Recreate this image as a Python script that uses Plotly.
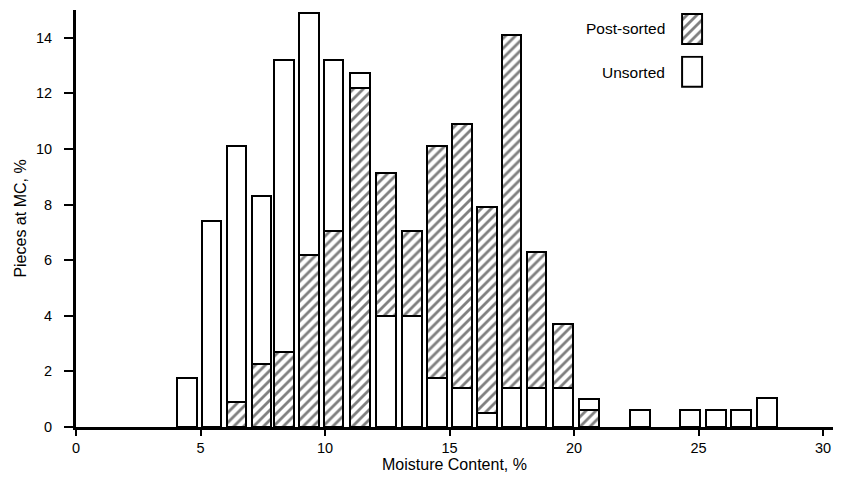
import plotly.graph_objects as go

# Moisture content bin centres (%)
mc = [4.45, 5.45, 6.45, 7.45, 8.35, 9.35, 10.35, 11.4, 12.45, 13.5, 14.5,
      15.5, 16.5, 17.5, 18.5, 19.55, 20.6, 22.65, 24.65, 25.7, 26.7, 27.75]
# Pieces at MC (%)
unsorted = [1.75, 7.4, 10.1, 8.3, 13.2, 14.9, 13.2, 12.75, 4.0, 4.0, 1.75,
            1.4, 0.5, 1.4, 1.4, 1.4, 1.0, 0.6, 0.6, 0.6, 0.6, 1.05]
post_sorted = [0, 0, 0.9, 2.25, 2.7, 6.2, 7.05, 12.2, 9.15, 7.05, 10.1,
               10.9, 7.9, 14.1, 6.3, 3.7, 0.6, 0, 0, 0, 0, 0]

x_ticks = [0, 5, 10, 15, 20, 25, 30]
y_ticks = [0, 2, 4, 6, 8, 10, 12, 14]

FONT = "Liberation Sans, Arial, Helvetica, sans-serif"
HATCH = "/"

# larger value drawn behind, smaller value drawn in front
back_y, back_pat, front_y, front_pat = [], [], [], []
for u, p in zip(unsorted, post_sorted):
    if p > u:
        back_y.append(p); back_pat.append(HATCH)
        front_y.append(u if u > 0 else None); front_pat.append("")
    else:
        back_y.append(u if u > 0 else None); back_pat.append("")
        front_y.append(p if p > 0 else None); front_pat.append(HATCH)

def bar_marker(pats):
    return dict(color="white",
                line=dict(color="black", width=2),
                pattern=dict(shape=pats, fgcolor="black", bgcolor="white",
                             size=7, solidity=0.4, fillmode="overlay"))

fig = go.Figure()
fig.add_trace(go.Bar(x=mc, y=back_y, width=0.78, marker=bar_marker(back_pat),
                     showlegend=False, xaxis="x", yaxis="y"))
fig.add_trace(go.Bar(x=mc, y=front_y, width=0.78, marker=bar_marker(front_pat),
                     showlegend=False, xaxis="x", yaxis="y"))

# legend swatches in small inset axes
fig.add_trace(go.Bar(x=[0], y=[1], width=1, marker=bar_marker([HATCH]),
                     showlegend=False, xaxis="x2", yaxis="y2"))
fig.add_trace(go.Bar(x=[0], y=[1], width=1, marker=bar_marker([""]),
                     showlegend=False, xaxis="x2", yaxis="y3"))

axis_common = dict(showline=True, linecolor="black", linewidth=3,
                   ticks="outside", tickcolor="black", tickwidth=2,
                   showgrid=False, zeroline=False,
                   tickfont=dict(family=FONT, size=14.5, color="black"))

fig.update_layout(
    width=841, height=477,
    margin=dict(l=76, r=8, t=10, b=50),
    paper_bgcolor="white", plot_bgcolor="white",
    barmode="overlay", bargap=0,
    font=dict(family=FONT, color="black"),
    xaxis=dict(range=[0, 30.4], tickvals=x_ticks, ticklen=6,
               title=dict(text="Moisture Content, %", standoff=2,
                          font=dict(family=FONT, size=16, color="black")),
               **axis_common),
    yaxis=dict(range=[0, 15], tickvals=y_ticks, ticklen=9,
               ticklabelstandoff=9,
               title=dict(text="Pieces at MC, %", standoff=6,
                          font=dict(family=FONT, size=16, color="black")),
               **axis_common),
    xaxis2=dict(domain=[0.798, 0.829], range=[-0.6, 0.6], visible=False,
                fixedrange=True),
    yaxis2=dict(domain=[0.915, 0.995], range=[-0.05, 1.05], visible=False,
                anchor="x2", fixedrange=True),
    yaxis3=dict(domain=[0.812, 0.89], range=[-0.05, 1.05], visible=False,
                anchor="x2", fixedrange=True),
    annotations=[
        dict(text="Post-sorted", xref="paper", yref="paper", x=0.781, y=0.955,
             xanchor="right", yanchor="middle", showarrow=False,
             font=dict(family=FONT, size=15.5, color="black")),
        dict(text="Unsorted", xref="paper", yref="paper", x=0.781, y=0.851,
             xanchor="right", yanchor="middle", showarrow=False,
             font=dict(family=FONT, size=15.5, color="black")),
    ],
)

fig.write_html("out.html")
